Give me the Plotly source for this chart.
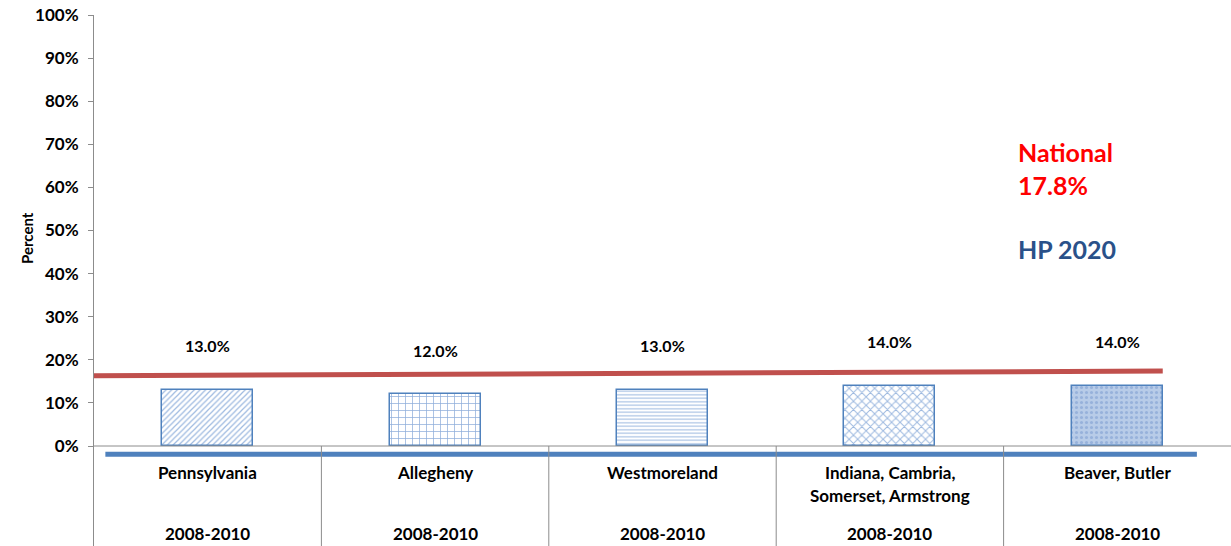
import plotly.graph_objects as go

# ---- data ----
categories = ["Pennsylvania", "Allegheny", "Westmoreland",
              "Indiana, Cambria,<br>Somerset, Armstrong", "Beaver, Butler"]
periods = ["2008-2010"] * 5
values = [0.13, 0.12, 0.13, 0.14, 0.14]
value_labels = ["13.0%", "12.0%", "13.0%", "14.0%", "14.0%"]
national_line = [0.163, 0.174]     # drawn reference line (start, end)
hp2020_line = [-0.019, -0.019]     # HP 2020 target line drawn below axis
y_ticks = [i / 10 for i in range(11)]

# ---- styles ----
FONT = "Lato"
patterns = ["/", "+", "-", "x", "."]
pat_sizes = [4, 7, 3.5, 6, 5]
pat_solid = [0.3, 0.2, 0.3, 0.3, 0.3]
pat_bg = ["white", "white", "white", "white", "#B8CCE8"]
pat_fg = ["#9DB9E0", "#8EAEDB", "#9DB9E0", "#9DB9E0", "#97B2DB"]
BAR_W = 0.4
n = len(categories)
xs = list(range(n))

W, H = 1231, 546

fig = go.Figure()
fig.add_trace(go.Bar(
    x=xs, y=values, width=BAR_W,
    marker=dict(
        color="white",
        line=dict(color="#4F81BD", width=1.5),
        pattern=dict(shape=patterns, size=pat_sizes, solidity=pat_solid,
                     fgcolor=pat_fg, bgcolor=pat_bg, fillmode="replace"),
    ),
    showlegend=False, hoverinfo="skip",
))

# National line (red)
fig.add_trace(go.Scatter(
    x=[-0.5, xs[-1] + BAR_W / 2], y=national_line, mode="lines",
    line=dict(color="#C0504D", width=5), showlegend=False, hoverinfo="skip",
))
# HP 2020 line (blue)
fig.add_trace(go.Scatter(
    x=[-0.45, xs[-1] + 0.35], y=hp2020_line, mode="lines",
    line=dict(color="#4F81BD", width=5), showlegend=False, hoverinfo="skip",
))

annotations = []
for i, (v, lab) in enumerate(zip(values, value_labels)):
    annotations.append(dict(x=i, y=v, xref="x", yref="y", text="<b>%s</b>" % lab, showarrow=False,
                            yshift=44, font=dict(family=FONT, size=16, color="black")))

PX = 1 / 431  # data units per pixel (100% spans 431 px)
for i, (c, p) in enumerate(zip(categories, periods)):
    for k, line in enumerate(c.split("<br>")):
        annotations.append(dict(x=i, y=-26 * PX, xref="x", yref="y", text="<b>%s</b>" % line,
                                showarrow=False, yshift=-23 * k,
                                font=dict(family=FONT, size=17, color="black")))
    annotations.append(dict(x=i, y=-87 * PX, xref="x", yref="y", text="<b>%s</b>" % p,
                            showarrow=False, font=dict(family=FONT, size=17, color="black")))

# side texts
side = dict(xref="paper", yref="paper", xanchor="left", yanchor="middle", showarrow=False)
annotations += [
    dict(x=0.811, y=0.742, text="<b>National</b>",
         font=dict(family=FONT, size=25, color="#FF0000"), **side),
    dict(x=0.811, y=0.679, text="<b>17.8%</b>",
         font=dict(family=FONT, size=25, color="#FF0000"), **side),
    dict(x=0.811, y=0.559, text="<b>HP 2020</b>",
         font=dict(family=FONT, size=25, color="#2A5189"), **side),
    dict(x=0, y=0.580, xref="paper", yref="paper", xshift=-78, yanchor="middle",
         text="<b>Percent</b>", textangle=-90, showarrow=False,
         font=dict(family=FONT, size=15, color="black")),
]

shapes = []
for i in range(1, n):
    shapes.append(dict(type="line", xref="x", yref="paper", x0=i - 0.5, x1=i - 0.5,
                       y0=0, y1=100 / 531, line=dict(color="#8C8C8C", width=1)))
shapes.append(dict(type="line", xref="paper", yref="y", x0=0, x1=1, y0=0, y1=0,
                   line=dict(color="#8C8C8C", width=1)))

fig.update_layout(
    width=W, height=H,
    margin=dict(l=94, r=0, t=15, b=0),
    plot_bgcolor="white", paper_bgcolor="white",
    bargap=0,
    xaxis=dict(range=[-0.5, 4.5], showticklabels=False, showgrid=False, zeroline=False,
               showline=False, fixedrange=True),
    yaxis=dict(range=[-100 / 431, 1.0], tickvals=y_ticks,
               ticktext=["<b>%d%%</b>" % round(t * 100) for t in y_ticks],
               showgrid=False, zeroline=False, showline=True, linecolor="#8C8C8C",
               linewidth=1, ticks="outside", ticklen=5, tickcolor="#8C8C8C",
               tickfont=dict(family=FONT, size=17, color="black"), ticklabelstandoff=6),
    annotations=annotations,
    shapes=shapes,
    font=dict(family=FONT),
)

# remove the page's default body margin so the figure fills the window exactly
fig.write_html("out.html", config={"displayModeBar": False},
               post_script="document.body.style.margin='0';document.body.style.overflow='hidden';")
